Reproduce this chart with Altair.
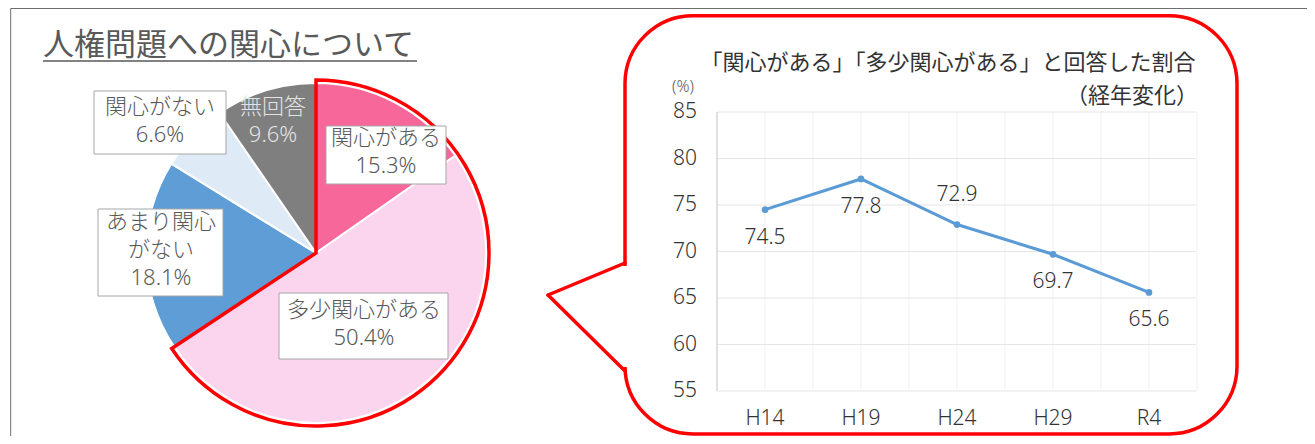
import altair as alt
import pandas as pd

# ---------------- data ----------------
categories = ["関心がある", "多少関心がある", "あまり関心がない", "関心がない", "無回答"]
shares = [15.3, 50.4, 18.1, 6.6, 9.6]
slice_colors = ["#F8679A", "#FBD4EE", "#5E9DD6", "#DEEBF7", "#7F7F7F"]

years = ["H14", "H19", "H24", "H29", "R4"]
rates = [74.5, 77.8, 72.9, 69.7, 65.6]
y_ticks = [55, 60, 65, 70, 75, 80, 85]
x_grid = [-0.5, 0, 0.5, 1, 1.5, 2, 2.5, 3, 3.5, 4, 4.5]

title_text = "人権問題への関心について"
chart_title_1 = "「関心がある」「多少関心がある」と回答した割合"
chart_title_2 = "（経年変化）"

FONT = "Noto Sans, Noto Sans CJK JP"
W, H = 1299, 428


def px(x):
    return x - 8


def py(y):
    return y - 8


one = alt.Data(values=[{"k": 0}])

pie_df = pd.DataFrame({"cat": categories, "share": shares, "idx": list(range(len(categories)))})
line_df = pd.DataFrame({"year": years, "v": rates, "i": list(range(len(years)))})
ytick_df = pd.DataFrame({"v": y_ticks})
xgrid_df = pd.DataFrame({"i": x_grid})

xs = alt.Scale(domain=[-0.5, 4.5], range=[px(717), px(1197)], zero=False, nice=False)
ys = alt.Scale(domain=[55, 85], range=[py(391), py(112)], zero=False, nice=False)

layers = []

# outer frame
layers.append(alt.Chart(one).mark_rule(color="#6E6E6E", strokeWidth=1).encode(
    x=alt.value(px(10.7)), x2=alt.value(W), y=alt.value(0.5)))
layers.append(alt.Chart(one).mark_rule(color="#6E6E6E", strokeWidth=1).encode(
    x=alt.value(px(10.7)), y=alt.value(0.5), y2=alt.value(H)))

# left title + underline
layers.append(alt.Chart(one).mark_text(font=FONT, fontSize=31, fontWeight=400, color="#595959",
                                       align="left", baseline="alphabetic").encode(
    x=alt.value(px(43)), y=alt.value(py(55)), text=alt.value(title_text)))
layers.append(alt.Chart(one).mark_rule(color="#595959", strokeWidth=1.5).encode(
    x=alt.value(px(43)), x2=alt.value(px(417)), y=alt.value(py(61))))

# pie
CX, CY, R = px(316), py(253), 170
layers.append(alt.Chart(pie_df).mark_arc(radius=R, stroke="white", strokeWidth=2).encode(
    theta=alt.Theta("share:Q", stack=True),
    order=alt.Order("idx:Q", sort="ascending"),
    color=alt.Color("cat:N", scale=alt.Scale(domain=categories, range=slice_colors), legend=None),
    x=alt.value(CX), y=alt.value(CY)))

# red outline around the "interested" part
layers.append(alt.Chart(pie_df).transform_calculate(
    grp="datum.idx < 2 ? 'a' : 'b'"
).transform_aggregate(total="sum(share)", groupby=["grp"]).mark_arc(
    radius=R + 3, fillOpacity=0, strokeWidth=3.5, strokeJoin="miter").encode(
    theta=alt.Theta("total:Q", stack=True),
    order=alt.Order("grp:N", sort="ascending"),
    stroke=alt.condition(alt.datum.grp == "a", alt.value("#FF0000"), alt.value("transparent")),
    x=alt.value(CX), y=alt.value(CY)))

# pie labels (layout: box bounds, text centre x, first-line y, line split, boxed, colour)
label_layout = [
    (326, 446, 126, 184, 386, 138, None, True, "#595959"),
    (279, 448, 293, 359, 364, 310, None, True, "#595959"),
    (98, 223, 209, 296, 161, 222, 5, True, "#595959"),
    (94, 226, 91, 154, 160, 107, None, True, "#595959"),
    (0, 0, 0, 0, 273, 107, None, False, "#E3E3E3"),
]
for k, (x0, x1, y0, y1, tx, ty, split, boxed, tcol) in enumerate(label_layout):
    name = categories[k]
    lines = [name] if split is None else [name[:split], name[split:]]
    lines = lines + [f"{shares[k]:.1f}%"]
    if boxed:
        layers.append(alt.Chart(one).mark_rect(fill="white", stroke="#A6A6A6", strokeWidth=1).encode(
            x=alt.value(px(x0)), x2=alt.value(px(x1)), y=alt.value(py(y0)), y2=alt.value(py(y1))))
    layers.append(alt.Chart(one).mark_text(font=FONT, fontSize=22, fontWeight=300, lineHeight=28,
                                           color=tcol, align="center", baseline="middle").encode(
        x=alt.value(px(tx)), y=alt.value(py(ty)), text=alt.value(lines)))

# speech bubble
layers.append(alt.Chart(one).mark_rect(fill="white", stroke="#FF0000", strokeWidth=3.5,
                                       cornerRadius=68).encode(
    x=alt.value(px(625)), x2=alt.value(px(1237)), y=alt.value(py(15.7)), y2=alt.value(py(434))))
layers.append(alt.Chart(one).mark_rule(color="white", strokeWidth=7).encode(
    x=alt.value(px(625)), y=alt.value(py(266)), y2=alt.value(py(367))))
layers.append(alt.Chart(one).mark_rule(color="#FF0000", strokeWidth=3.5, strokeCap="round").encode(
    x=alt.value(px(625)), x2=alt.value(px(548)), y=alt.value(py(263)), y2=alt.value(py(295))))
layers.append(alt.Chart(one).mark_rule(color="#FF0000", strokeWidth=3.5, strokeCap="round").encode(
    x=alt.value(px(548)), x2=alt.value(px(624)), y=alt.value(py(295)), y2=alt.value(py(370))))

# line chart grid
layers.append(alt.Chart(xgrid_df).mark_rule(color="#F0F0F0", strokeWidth=1).encode(
    x=alt.X("i:Q", scale=xs, axis=None), y=alt.value(py(112)), y2=alt.value(py(391))))
layers.append(alt.Chart(ytick_df).mark_rule(color="#E6E6E6", strokeWidth=1.2).encode(
    y=alt.Y("v:Q", scale=ys, axis=None), x=alt.value(px(717)), x2=alt.value(px(1196))))
layers.append(alt.Chart(one).mark_rule(color="#D0D0D0", strokeWidth=1.2).encode(
    x=alt.value(px(717)), y=alt.value(py(112)), y2=alt.value(py(391))))

# y tick labels
layers.append(alt.Chart(ytick_df).mark_text(font=FONT, fontSize=21, fontWeight=300, color="#333333",
                                            align="right", baseline="middle").encode(
    y=alt.Y("v:Q", scale=ys, axis=None), x=alt.value(px(697)), text=alt.Text("v:Q")))
layers.append(alt.Chart(one).mark_text(font=FONT, fontSize=16, fontWeight=300, color="#595959",
                                       align="center", baseline="middle").encode(
    x=alt.value(px(683)), y=alt.value(py(87)), text=alt.value("(%)")))

# x labels
layers.append(alt.Chart(line_df).mark_text(font=FONT, fontSize=21, fontWeight=300, color="#333333",
                                           align="center", baseline="middle").encode(
    x=alt.X("i:Q", scale=xs, axis=None), y=alt.value(py(419)), text="year:N"))

# line + points
layers.append(alt.Chart(line_df).mark_line(color="#5B9BD5", strokeWidth=3).encode(
    x=alt.X("i:Q", scale=xs, axis=None), y=alt.Y("v:Q", scale=ys, axis=None)))
layers.append(alt.Chart(line_df).mark_circle(color="#5B9BD5", size=45, opacity=1).encode(
    x=alt.X("i:Q", scale=xs, axis=None), y=alt.Y("v:Q", scale=ys, axis=None)))

# value labels
layers.append(alt.Chart(line_df).transform_filter(alt.datum.year != "H24").mark_text(
    font=FONT, fontSize=21, fontWeight=300, color="#333333", align="center", baseline="middle",
    dy=28).encode(
    x=alt.X("i:Q", scale=xs, axis=None), y=alt.Y("v:Q", scale=ys, axis=None),
    text=alt.Text("v:Q", format=".1f")))
layers.append(alt.Chart(line_df).transform_filter(alt.datum.year == "H24").mark_text(
    font=FONT, fontSize=21, fontWeight=300, color="#333333", align="center", baseline="middle",
    dy=-30).encode(
    x=alt.X("i:Q", scale=xs, axis=None), y=alt.Y("v:Q", scale=ys, axis=None),
    text=alt.Text("v:Q", format=".1f")))

# chart title
layers.append(alt.Chart(one).mark_text(font=FONT, fontSize=22, color="#333333", align="center",
                                       baseline="middle").encode(
    x=alt.value(px(948)), y=alt.value(py(63)), text=alt.value(chart_title_1)))
layers.append(alt.Chart(one).mark_text(font=FONT, fontSize=22, color="#333333", align="right",
                                       baseline="middle").encode(
    x=alt.value(px(1198)), y=alt.value(py(96)), text=alt.value(chart_title_2)))

chart = alt.layer(*layers).properties(
    width=W, height=H, padding=0, autosize=alt.AutoSizeParams(type="none")
).configure_view(stroke="transparent")

chart.save("out.html", embed_options={"renderer": "svg", "actions": False})
